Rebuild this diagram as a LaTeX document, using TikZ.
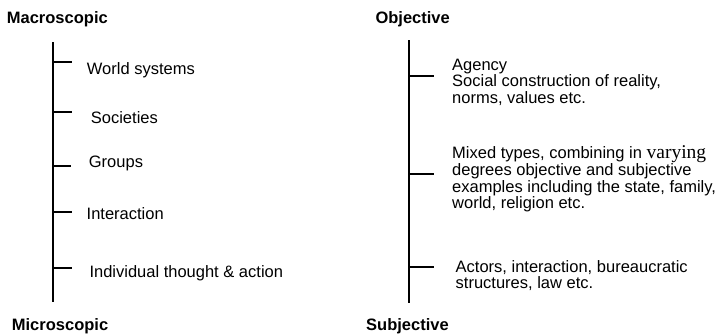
\documentclass[tikz,border=0pt]{standalone}
\usepackage{fontspec}
\setmainfont{Liberation Sans}
\newfontfamily\serifv{Liberation Serif}
\begin{document}
\begin{tikzpicture}[x=1bp,y=-1bp,
  axis/.style={line width=1.7bp,black},
  tick/.style={line width=1.7bp,black},
  lbl/.style={inner sep=0pt,anchor=base west,font=\fontsize{16.5bp}{16.5bp}\selectfont},
  head/.style={inner sep=0pt,anchor=base west,font=\fontsize{16.5bp}{16.5bp}\selectfont\bfseries},
  blk/.style={inner sep=0pt,anchor=north west,align=left,font=\fontsize{16.5bp}{16.4bp}\selectfont},
  blktight/.style={inner sep=0pt,anchor=north west,align=left,font=\fontsize{16.5bp}{14.7bp}\selectfont}]
\useasboundingbox (0,0) rectangle (724,334);
% left scale
\node[head] (macro) at (6.7,23.3) {Macroscopic};
\node[head] (micro) at (11.7,330.5) {Microscopic};
\coordinate (ltop) at (53,42);
\coordinate (lbot) at (53,302);
\draw[axis] (ltop) -- (lbot);
\coordinate (t1) at (53,62);  \coordinate (e1) at (72,62);
\coordinate (t2) at (53,112); \coordinate (e2) at (72,112);
\coordinate (t3) at (53,166); \coordinate (e3) at (71,166);
\coordinate (t4) at (53,212); \coordinate (e4) at (72,212);
\coordinate (t5) at (53,268); \coordinate (e5) at (72,268);
\foreach \i in {1,...,5} \draw[tick] (t\i) -- (e\i);
\node[lbl] (world) at (86.7,74) {World systems};
\node[lbl] (soc) at (90.7,123) {Societies};
\node[lbl] (grp) at (88.7,167.7) {Groups};
\node[lbl] (inter) at (86.5,219) {Interaction};
\node[lbl] (indiv) at (89.3,277.3) {Individual thought \& action};
% right scale
\node[head] (obj) at (375.3,23.3) {Objective};
\node[head] (subj) at (366,330.5) {Subjective};
\coordinate (rtop) at (408.7,40);
\coordinate (rbot) at (408.7,303);
\draw[axis] (rtop) -- (rbot);
\coordinate (r1) at (408.7,76);  \coordinate (f1) at (433.7,76);
\coordinate (r2) at (408.7,174); \coordinate (f2) at (433.7,174);
\coordinate (r3) at (408.7,267); \coordinate (f3) at (433.7,267);
\foreach \i in {1,2,3} \draw[tick] (r\i) -- (f\i);
\node[blk] (agency) at (452,58.9) {Agency\\Social construction of reality,\\norms, values etc.};
\node[blktight] (mixed) at (452,145.4) {Mixed types, combining in {\serifv\fontsize{19.5bp}{14.7bp}\selectfont varying}\\degrees objective and subjective\\examples including the state, family,\\world, religion etc.};
\node[blk] (actors) at (455.5,259.9) {Actors, interaction, bureaucratic\\structures, law etc.};
\end{tikzpicture}
\end{document}
